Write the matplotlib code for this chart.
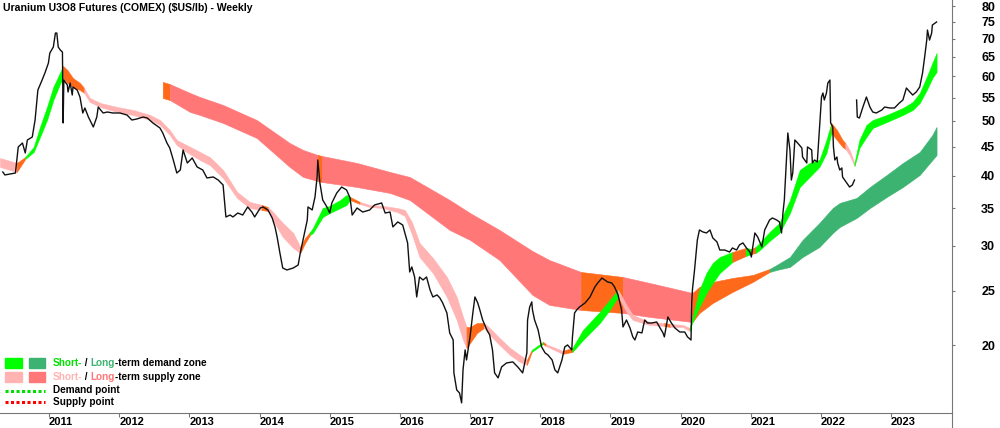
import numpy as np
import matplotlib.pyplot as plt
from matplotlib.patches import Rectangle
from matplotlib.lines import Line2D

plt.rcParams['font.family'] = ['Liberation Sans Narrow', 'Liberation Sans', 'DejaVu Sans']
plt.rcParams['font.weight'] = 'bold'

# Weekly price path (decimal year, $US/lb); nan = gap in data
price_years = [
    2010.34, 2010.37, 2010.52, 2010.56, 2010.62, 2010.66, 2010.69, 2010.76, 2010.80, 2010.84,
    2010.90, 2010.94, 2010.99, 2011.01, 2011.06, 2011.09, 2011.11, 2011.13, 2011.16, 2011.19,
    2011.20, 2011.21, 2011.26, 2011.27, 2011.30, 2011.33, 2011.34, 2011.40, 2011.44, 2011.48,
    2011.51, 2011.56, 2011.63, 2011.68, 2011.70, 2011.77, 2011.83, 2011.91, 2012.01, 2012.11,
    2012.18, 2012.25, 2012.34, 2012.40, 2012.48, 2012.58, 2012.62, 2012.68, 2012.72, 2012.77,
    2012.82, 2012.87, 2012.91, 2012.97, 2013.04, 2013.11, 2013.19, 2013.25, 2013.34, 2013.41,
    2013.48, 2013.52, 2013.58, 2013.62, 2013.69, 2013.76, 2013.83, 2013.89, 2013.93, 2014.01,
    2014.05, 2014.12, 2014.18, 2014.22, 2014.25, 2014.29, 2014.33, 2014.39, 2014.48, 2014.55,
    2014.58, 2014.62, 2014.68, 2014.69, 2014.75, 2014.79, 2014.82, 2014.83, 2014.86, 2014.90,
    2014.96, 2015.00, 2015.03, 2015.10, 2015.17, 2015.24, 2015.29, 2015.32, 2015.39, 2015.47,
    2015.57, 2015.64, 2015.74, 2015.79, 2015.86, 2015.90, 2015.97, 2016.04, 2016.11, 2016.14,
    2016.17, 2016.21, 2016.24, 2016.28, 2016.33, 2016.38, 2016.43, 2016.47, 2016.53, 2016.57,
    2016.61, 2016.67, 2016.71, 2016.76, 2016.77, 2016.81, 2016.85, 2016.88, 2016.90, 2016.93,
    2016.95, 2017.00, 2017.04, 2017.07, 2017.11, 2017.14, 2017.18, 2017.24, 2017.28, 2017.32,
    2017.35, 2017.40, 2017.45, 2017.52, 2017.61, 2017.68, 2017.75, 2017.81, 2017.82, 2017.85,
    2017.88, 2017.89, 2017.92, 2017.97, 2018.02, 2018.07, 2018.11, 2018.17, 2018.21, 2018.25,
    2018.31, 2018.35, 2018.39, 2018.45, 2018.46, 2018.49, 2018.52, 2018.56, 2018.64, 2018.71,
    2018.78, 2018.82, 2018.88, 2018.92, 2018.96, 2019.02, 2019.06, 2019.11, 2019.16, 2019.18,
    2019.23, 2019.28, 2019.32, 2019.35, 2019.39, 2019.45, 2019.49, 2019.53, 2019.59, 2019.66,
    2019.70, 2019.75, 2019.77, 2019.82, 2019.87, 2019.92, 2019.99, 2020.06, 2020.10, 2020.15,
    2020.16, 2020.17, 2020.20, 2020.23, 2020.24, 2020.27, 2020.32, 2020.37, 2020.42, 2020.46,
    2020.52, 2020.56, 2020.63, 2020.70, 2020.74, 2020.80, 2020.84, 2020.89, 2020.94, 2020.99,
    2021.01, 2021.03, 2021.06, 2021.10, 2021.16, 2021.20, 2021.27, 2021.31, 2021.37, 2021.41,
    2021.44, 2021.46, 2021.48, 2021.51, 2021.53, 2021.56, 2021.58, 2021.60, 2021.63, 2021.67,
    2021.73, 2021.74, 2021.80, 2021.81, 2021.87, 2021.88, 2021.91, 2021.95, 2021.98, 2022.01,
    2022.03, 2022.05, 2022.08, 2022.10, 2022.13, 2022.14, 2022.17, 2022.18, 2022.20, 2022.23,
    2022.24, 2022.27, 2022.30, 2022.31, 2022.37, 2022.41, 2022.45, 2022.48, 2022.495, 2022.51,
    2022.52, 2022.55, 2022.60, 2022.65, 2022.70, 2022.74, 2022.79, 2022.87, 2022.91, 2022.98,
    2023.05, 2023.12, 2023.17, 2023.22, 2023.27, 2023.31, 2023.36, 2023.41, 2023.45, 2023.48,
    2023.51, 2023.52, 2023.55, 2023.58, 2023.59, 2023.65,
]
price_values = [
    40.59, 40.10, 40.42, 44.96, 45.69, 43.87, 46.26, 46.83, 50.20, 56.75,
    59.11, 60.83, 63.37, 66.01, 67.65, 71.64, 71.64, 67.65, 66.83, 66.28,
    49.59, 59.11, 57.92, 56.29, 58.39, 55.60, 57.45, 56.75, 55.15, 51.66,
    52.73, 50.82, 48.79, 50.82, 52.94, 51.66, 51.87, 51.66, 51.66, 51.24,
    50.20, 50.41, 50.82, 50.61, 49.59, 48.59, 47.61, 45.69, 44.77, 42.63,
    40.42, 40.92, 44.41, 42.11, 42.98, 41.43, 40.92, 39.61, 39.77, 39.28,
    38.49, 33.77, 34.04, 33.77, 34.32, 34.04, 35.18, 34.46, 33.77, 35.03,
    35.18, 34.75, 33.63, 32.42, 31.12, 29.14, 27.41, 27.19, 27.41, 27.75,
    29.14, 30.74, 33.36, 35.18, 34.75, 36.65, 39.77, 42.63, 38.80, 36.20,
    35.18, 34.32, 35.76, 37.25, 38.17, 37.71, 36.50, 34.04, 35.03, 34.46,
    34.75, 35.47, 35.76, 34.32, 34.46, 32.42, 33.09, 32.68, 30.37, 26.97,
    27.53, 26.42, 24.35, 26.42, 26.10, 26.42, 25.06, 24.35, 24.55, 24.25,
    23.76, 22.81, 21.02, 20.42, 17.85, 16.65, 16.44, 15.79, 18.07, 19.61,
    18.82, 20.68, 22.81, 24.35, 23.76, 23.09, 22.16, 21.28, 20.85, 19.61,
    17.85, 17.49, 18.29, 18.59, 18.67, 18.29, 17.85, 19.37, 22.16, 23.37,
    23.86, 23.09, 22.16, 21.28, 19.85, 19.37, 19.21, 18.82, 18.07, 17.85,
    18.82, 19.85, 20.01, 19.61, 20.68, 22.81, 23.09, 23.37, 23.76, 24.35,
    25.37, 25.78, 26.31, 26.10, 25.89, 25.78, 25.37, 24.55, 23.09, 21.54,
    22.16, 21.45, 20.68, 20.42, 21.10, 21.02, 22.16, 21.89, 21.89, 21.98,
    21.54, 21.02, 20.68, 22.44, 21.89, 21.45, 21.10, 21.10, 20.68, 20.42,
    23.76, 25.06, 27.19, 29.87, 30.74, 32.02, 31.76, 31.63, 32.02, 31.00,
    30.49, 29.50, 29.50, 29.26, 29.75, 29.50, 30.12, 30.37, 29.75, 29.26,
    28.67, 29.87, 31.63, 31.12, 29.87, 32.02, 33.36, 33.63, 33.36, 33.09,
    31.63, 34.32, 36.20, 42.63, 47.61, 44.41, 39.28, 40.42, 46.26, 45.69,
    44.77, 43.15, 42.11, 44.96, 44.41, 42.11, 42.63, 42.29, 48.19, 55.15,
    56.06, 54.48, 56.06, 58.39, 59.11, 49.59, 48.79, 44.96, 42.63, 43.15,
    42.11, 40.92, 41.26, 39.77, 38.80, 38.17, 38.49, 39.28, np.nan, 54.48,
    50.82, 50.61, 52.94, 55.15, 52.94, 51.87, 51.66, 52.30, 52.94, 52.73,
    52.73, 53.82, 54.48, 57.22, 56.29, 55.60, 56.29, 57.45, 60.83, 64.94,
    69.62, 72.52, 69.62, 71.64, 74.02, 74.94,
]

# Short-term zone: upper / lower edge, zone state of the following segment
# D = demand, S = supply, N = transition
st_years = [
    2010.30, 2010.54, 2010.66, 2010.78, 2010.87, 2010.97, 2011.06, 2011.16, 2011.20, 2011.26,
    2011.34, 2011.44, 2011.50, 2011.58, 2011.73, 2011.97, 2012.20, 2012.44, 2012.58, 2012.72,
    2012.82, 2012.96, 2013.15, 2013.29, 2013.48, 2013.68, 2013.86, 2014.03, 2014.12, 2014.19,
    2014.33, 2014.48, 2014.58, 2014.65, 2014.72, 2014.76, 2014.90, 2015.00, 2015.15, 2015.24,
    2015.29, 2015.43, 2015.57, 2015.76, 2015.96, 2016.07, 2016.17, 2016.28, 2016.47, 2016.67,
    2016.81, 2016.90, 2016.95, 2017.00, 2017.10, 2017.20, 2017.28, 2017.42, 2017.57, 2017.71,
    2017.81, 2017.88, 2018.04, 2018.08, 2018.32, 2018.46, 2018.61, 2018.85, 2018.99, 2019.11,
    2019.23, 2019.32, 2019.56, 2019.77, 2019.85, 2020.03, 2020.13, 2020.17, 2020.27, 2020.37,
    2020.46, 2020.56, 2020.74, 2020.93, 2021.01, 2021.07, 2021.13, 2021.27, 2021.41, 2021.56,
    2021.70, 2021.84, 2021.98, 2022.08, 2022.15, 2022.23, 2022.31, 2022.35, 2022.41, 2022.48,
    2022.52, 2022.55, 2022.65, 2022.74, 2022.94, 2023.17, 2023.31, 2023.41, 2023.51, 2023.59,
    2023.65,
]
st_upper = [
    42.98, 42.11, 43.15, 44.96, 48.79, 52.94, 57.45, 61.08, 62.60, 61.58,
    59.60, 58.39, 57.22, 54.93, 53.82, 52.94, 52.30, 51.24, 50.20, 48.19,
    46.26, 45.32, 44.05, 43.15, 40.92, 37.40, 35.91, 35.47, 35.18, 34.46,
    32.95, 31.63, 29.87, 31.00, 31.76, 32.28, 35.03, 35.32, 36.20, 36.94,
    36.65, 35.91, 35.47, 35.32, 35.03, 34.75, 33.09, 30.37, 28.56, 26.42,
    24.35, 22.44, 21.54, 21.54, 21.89, 21.89, 21.45, 20.59, 19.77, 19.21,
    18.82, 19.61, 20.26, 20.09, 19.53, 19.77, 21.28, 22.90, 24.05, 25.06,
    23.57, 22.62, 21.98, 21.89, 21.80, 21.72, 21.45, 22.35, 25.06, 26.86,
    27.98, 28.67, 29.26, 29.75, 29.63, 29.87, 30.37, 31.76, 32.95, 36.20,
    40.92, 42.11, 42.63, 46.26, 49.59, 48.19, 46.26, 45.69, 44.41, 42.11,
    44.41, 46.26, 49.19, 50.20, 51.24, 52.73, 54.04, 56.06, 59.85, 63.37,
    66.01,
]
st_lower = [
    41.43, 40.59, 42.80, 44.05, 46.83, 50.20, 54.48, 58.39, 59.60, 58.39,
    57.45, 56.75, 56.06, 54.04, 52.94, 51.87, 51.24, 50.20, 49.19, 47.22,
    45.32, 44.05, 42.63, 41.76, 39.61, 36.50, 35.03, 34.75, 34.60, 33.36,
    31.12, 29.75, 29.14, 30.37, 31.37, 31.63, 33.77, 34.32, 35.03, 35.47,
    36.20, 35.61, 35.18, 35.03, 34.46, 33.91, 31.50, 28.67, 26.86, 24.35,
    22.16, 20.42, 19.77, 20.17, 21.02, 21.45, 20.85, 20.01, 19.21, 18.67,
    18.44, 19.45, 20.09, 19.93, 19.29, 19.45, 20.42, 21.89, 23.09, 24.35,
    22.90, 22.16, 21.72, 21.63, 21.54, 21.54, 21.19, 21.98, 23.37, 24.75,
    25.78, 26.86, 28.09, 28.79, 29.03, 29.14, 29.50, 30.62, 31.63, 34.32,
    38.17, 39.77, 41.43, 43.87, 47.61, 46.26, 44.96, 44.59, 43.51, 41.60,
    43.33, 44.77, 46.83, 48.59, 49.79, 51.24, 52.30, 53.82, 56.75, 59.60,
    61.08,
]
st_state = list(
    "SNDDDDDDNN"
    "NNSSSSSSSS"
    "SSSSSSSNSS"
    "SSNNDDDDDD"
    "NSSSSSSSSS"
    "SSNNNSSSSS"
    "NDNSNDDDDS"
    "SSSNSSDDDD"
    "DDNDNDDDDD"
    "DDDDNNNSSD"
    "DDDDDDDDDD"
    "D"
)

# Long-term zone
lt_years = [
    2012.62, 2012.72, 2013.01, 2013.15, 2013.48, 2013.96, 2014.43, 2014.62, 2014.83, 2014.89,
    2015.39, 2015.86, 2016.14, 2016.71, 2017.00, 2017.42, 2017.89, 2018.13, 2018.58, 2019.18,
    2019.56, 2020.17, 2020.27, 2020.46, 2020.74, 2021.03, 2021.27, 2021.37, 2021.56, 2021.74,
    2021.98, 2022.17, 2022.27, 2022.51, 2022.70, 2022.94, 2023.17, 2023.41, 2023.59, 2023.65,
]
lt_upper = [
    58.64, 58.16, 56.06, 55.15, 53.38, 50.20, 45.69, 44.41, 43.51, 43.33,
    42.11, 40.59, 39.77, 36.20, 34.32, 32.02, 29.38, 28.32, 26.97, 26.42,
    25.78, 24.75, 25.37, 25.89, 26.31, 26.64, 27.30, 27.75, 28.67, 30.74,
    32.95, 35.03, 35.76, 36.50, 38.17, 40.10, 42.11, 44.05, 47.22, 48.79,
]
lt_lower = [
    54.93, 54.48, 51.87, 51.24, 49.59, 46.64, 41.43, 39.77, 39.12, 38.96,
    38.17, 37.25, 36.20, 32.02, 30.74, 28.32, 24.55, 23.57, 23.09, 22.81,
    22.44, 21.98, 22.81, 23.76, 24.85, 25.89, 26.97, 27.19, 27.53, 28.67,
    29.87, 31.63, 32.42, 33.63, 35.03, 36.65, 38.17, 40.10, 42.63, 43.51,
]
lt_state = list(
    "NSSSSSSSNS"
    "SSSSSSSSNS"
    "SNNNNNDDDD"
    "DDDDDDDDDD"
)

year_ticks = list(range(2011, 2024))
price_ticks = [20, 25, 30, 35, 40, 45, 50, 55, 60, 65, 70, 75, 80]

st_colors = {"D": "#00FF00", "S": "#FFB3B3", "N": "#FF6A1A"}
lt_colors = {"D": "#3CB371", "S": "#FF7777", "N": "#FF6A1A"}


def draw_zone(ax, years, upper, lower, state, colors):
    n = len(years)
    i = 0
    while i < n - 1:
        j = i
        while j + 1 < n - 1 and state[j + 1] == state[i]:
            j += 1
        c = colors[state[i]]
        ax.fill_between(years[i:j + 2], lower[i:j + 2], upper[i:j + 2],
                        facecolor=c, edgecolor=c, linewidth=0.4)
        i = j + 1


fig = plt.figure(figsize=(10, 4.28), dpi=100)
ax = fig.add_axes([0, 15 / 428, 0.952, 413 / 428])

draw_zone(ax, lt_years, lt_upper, lt_lower, lt_state, lt_colors)
draw_zone(ax, st_years, st_upper, st_lower, st_state, st_colors)
ax.plot(price_years, price_values, color="#111111", lw=1.0)

ax.set_yscale("log")
ax.set_ylim(15.15, 82)
ax.set_xlim(2010.30, 2023.87)

ax.yaxis.tick_right()
ax.set_yticks(price_ticks)
ax.set_yticklabels([str(t) for t in price_ticks])
ax.yaxis.set_minor_locator(plt.NullLocator())
ax.tick_params(axis="y", direction="out", length=2, pad=19, colors="#777777",
               labelcolor="black", labelsize=9)

ax.set_xticks(year_ticks)
ax.set_xticklabels([str(y) for y in year_ticks])
for lbl in ax.get_xticklabels():
    lbl.set_horizontalalignment("left")
ax.tick_params(axis="x", direction="out", length=3, pad=0, colors="#777777",
               labelcolor="black", labelsize=8)

for side in ["left", "top"]:
    ax.spines[side].set_visible(False)
for side in ["right", "bottom"]:
    ax.spines[side].set_color("#777777")
    ax.spines[side].set_linewidth(0.8)
ax.plot([1, 1], [-0.04, 0], transform=ax.transAxes, clip_on=False,
        color="#777777", lw=0.8)

ax.text(0.003, 0.981, "Uranium U3O8 Futures (COMEX) ($US/lb) - Weekly",
        transform=ax.transAxes, va="center", ha="left", fontsize=7.6)

# Legend built by hand
fig.add_artist(Rectangle((0.005, 0.140), 0.017, 0.0234, color="#00FF00"))
fig.add_artist(Rectangle((0.029, 0.140), 0.016, 0.0234, color="#3CB371"))
fig.add_artist(Rectangle((0.005, 0.1075), 0.017, 0.0234, color="#FFB3B3"))
fig.add_artist(Rectangle((0.029, 0.1075), 0.016, 0.0234, color="#FF7777"))
fig.add_artist(Line2D([0.005, 0.045], [0.0864, 0.0864], color="#00DD00",
                      lw=2.2, linestyle=(0, (1, 0.8))))
fig.add_artist(Line2D([0.005, 0.045], [0.0607, 0.0607], color="#FF0000",
                      lw=2.2, linestyle=(0, (1, 0.8))))

legend_size = 7.2


def chain(x, y, parts):
    t = fig.text(x, y, parts[0][0], color=parts[0][1], fontsize=legend_size,
                 va="center", ha="left")
    for s, c in parts[1:]:
        t = ax.annotate(s, xy=(1, 0), xycoords=t, va="bottom", ha="left",
                        color=c, fontsize=legend_size, annotation_clip=False)


chain(0.053, 0.152, [("Short-", "#00E000"), (" / ", "black"),
                     ("Long", "#3CB371"), ("-term demand zone", "black")])
chain(0.053, 0.119, [("Short-", "#FFB3B3"), (" / ", "black"),
                     ("Long", "#FF7777"), ("-term supply zone", "black")])
fig.text(0.053, 0.088, "Demand point", fontsize=legend_size, va="center", ha="left")
fig.text(0.053, 0.060, "Supply point", fontsize=legend_size, va="center", ha="left")

fig.savefig("out.png", dpi=100)
